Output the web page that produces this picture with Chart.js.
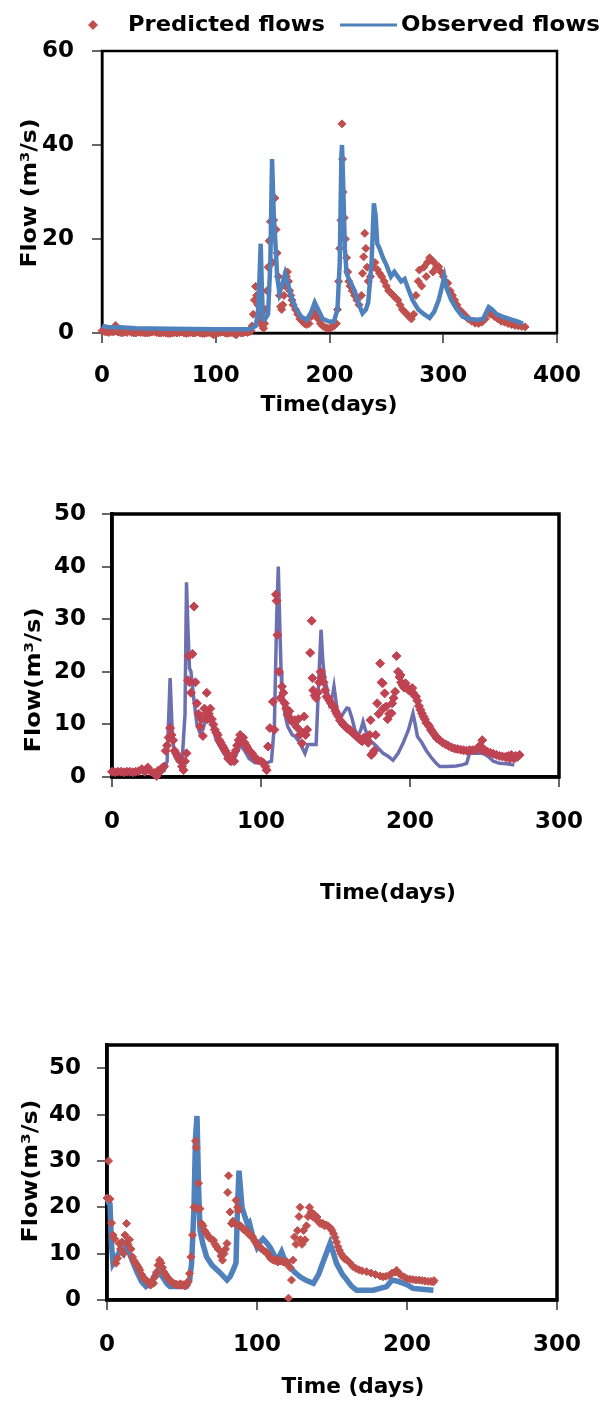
<!DOCTYPE html>
<html>
<head>
<meta charset="utf-8">
<script src="https://cdn.jsdelivr.net/npm/chart.js@4.4.1/dist/chart.umd.min.js"></script>
<style>
  html, body { margin: 0; padding: 0; background: #fff; }
  #page { position: relative; width: 606px; height: 1403px; overflow: hidden; }
  canvas { position: absolute; left: 0; }
</style>
</head>
<body>
<div id="page">
  <canvas id="flowChart1" width="606" height="430" style="top:0px"></canvas>
  <canvas id="flowChart2" width="606" height="440" style="top:470px"></canvas>
  <canvas id="flowChart3" width="606" height="393" style="top:1010px"></canvas>
</div>
<script>
// ---- data: [day, flow m3/s] ----

const seriesNames = ['Predicted flows', 'Observed flows'];

// panel 1
const observed1 = [
  [0,1.5],[5,1.3],[15,1.2],[30,1.0],[60,0.9],[100,0.8],[130,0.8],[135,1.5],[137,4],[138.5,12],[139.5,19],
  [140.5,10],[141.5,3],[143,2.8],[146,4],[148,15],[149.5,37],[151,25],[152.5,19],[154,12],[156,8.5],
  [158,10],[161,12.7],[163,11],[166,8],[170,5.5],[175,3.5],[180,2.8],[184,4.5],[187,6.5],[190,5],
  [194,3],[200,2.4],[204,2.5],[207,5],[209,15],[210.5,38],[211,40],[212,32],[213.5,18],[215,12.7],
  [218,11],[222,9],[226,6],[229,4.2],[232,5],[234,6.5],[237,15],[239,27.6],[240.5,25],[242,19],
  [244,18],[247,16],[250,14.5],[254,12],[257,13],[260,12],[263,11],[266,11.5],[269,9.5],[273,7],
  [278,5],[283,4],[288,3.2],[292,4.5],[296,7],[299,10],[301,12],[303,9.5],[307,7],[312,5],[317,3.5],
  [322,3],[330,2.8],[335,3],[338,4.5],[340,5.5],[343,5],[347,4],[352,3.5],[358,3],[365,2.5],[370,2]
];
const predicted1 = [
  [0,0.5],[2,0.3],[4,0.2],[6,0.1],[8,0.3],[10,0.2],[12,1.6],[14,0.2],[16,0.1],[18,0],[20,0.2],[22,0.1],
  [24,0.4],[26,0.1],[28,0],[30,0],[32,0.2],[34,0.1],[36,0.1],[38,0],[40,0],[42,0.1],[44,0.2],
  [46,0.3],[48,0.1],[50,0],[52,0],[54,0.1],[56,0],[58,-0.1],[60,-0.1],[62,0],[64,0.1],[66,0],
  [68,0.1],[70,0.2],[72,0],[74,-0.1],[76,0],[78,0.1],[80,0],[82,0],[84,0.2],[86,0],[88,-0.1],
  [90,-0.1],[92,0],[94,0.1],[96,0],[98,-0.4],[100,-0.1],[102,0],[104,0.1],[106,0.2],[108,0],
  [110,-0.1],[112,0],[114,0.1],[116,-0.1],[118,-0.4],[120,0.1],[122,0],[124,0],[126,0.2],[128,0.1],
  [130,0.3],[131,0.5],[132,1.5],[133,4],[134,7],[135,9.9],[136,8],[137,6],[138,4],[139,3],[140,2],
  [141,1.5],[142,1],[143,2],[144,5],[145,9],[146,14],[147,19.6],[148,23.7],[149,20],[150,15],[151,24],
  [152,28.7],[153,22],[154,17],[155,12],[156,8],[157,5.6],[158,5],[159,6],[160,8],[161,10],[162,12],
  [163,13],[164,11],[165,9],[166,8],[167,7],[168,6],[170,5],[172,4],[174,3],[176,2.5],[178,2],[180,1.8],
  [182,2],[184,3.5],[186,4.5],[188,4],[190,3],[192,2],[194,1.5],[196,1.2],[198,1],[200,1],[202,1.2],
  [204,1.5],[206,2],[207,5],[208,11],[209,18],[210,24],[211,44.5],[211.5,37],[212,30],[213,24.5],
  [214,20],[215,16],[216,13],[217,11],[218,10],[220,9],[222,8],[224,7],[226,6],[228,8],[229,12.7],
  [230,16.2],[231,21.2],[232,18],[233,14],[234,11],[236,12],[238,14],[240,15],[242,13.5],[244,12.7],
  [246,12],[248,11],[250,10],[252,9],[254,8.5],[256,8],[258,7.5],[260,7],[262,6],[264,5],[266,4.5],
  [268,4],[270,3.5],[272,3],[274,4],[276,8],[278,11],[279,13.4],[281,10],[283,14],[285,12],[286,15],
  [288,16],[290,15.5],[291,13],[292,15],[294,14],[296,14.1],[298,13],[300,12],[302,11],[304,10.6],
  [306,9],[308,8],[310,7],[312,6],[314,5],[316,4.5],[318,4],[320,3.5],[322,3],[325,2.5],[328,2.1],
  [331,2],[334,2.3],[337,3],[340,4.2],[342,4],[345,3.5],[348,3],[351,2.5],[354,2.3],[357,2],[360,1.8],
  [363,1.6],[366,1.5],[369,1.4],[372,1.3]
];
const xTicks1 = [0, 400, 100];   // min, max, step
const yTicks1 = [0, 60, 20];

// panel 2
const observed2 = [
  [0,1],[10,1],[20,1],[30,1],[35,1.2],[37,3],[39,18.8],[40.5,8],[42,4],[44,3],[47,2.8],[49,12],[50,37],
  [51,28],[52,20.7],[53,20],[55,14.6],[57,10],[59,8.4],[61,9],[64,12.1],[67,10],[70,7],[74,5],[79,2.7],
  [83,4],[86,6.1],[89,5],[92,3.5],[96,2.7],[100,2.7],[104,2.7],[107,3],[109,10],[110.5,30],[111.6,40],
  [112.5,30],[113.5,20],[114,16.5],[116,12],[118,9.6],[121,8],[123,7.7],[126,6.5],[129.5,4.5],[131.5,6.2],
  [134,6.2],[137,6.2],[139,20],[140.3,28],[141.5,22],[143,18],[144,17.2],[146,14],[148,15.5],[149,17.2],
  [151,13],[153,11.2],[155,12],[157.6,13.1],[159,13],[161,11.2],[163,9],[165,7.7],[167,9],[168.5,10.5],
  [170,9],[173,7],[177,6],[182,4.5],[185,4],[188.6,3.2],[192,4.5],[195.3,6.4],[199,9],[202,12.1],
  [203.5,10],[205,7.7],[208,6.5],[211,5],[214,3.8],[217.6,2.6],[220,2],[225,2],[231,2.1],[235,2.3],
  [238,2.6],[240,4.5],[245,4.5],[249,4.5],[252,4],[256,3],[260,2.6],[265,2.5],[270,2.3]
];
const predicted2 = [
  [0,1],[2,0.9],[4,1],[6,1],[8,0.9],[10,1],[12,1],[14,0.9],[16,1],[18,1.1],[20,1.5],[22,1],[24,1.8],
  [26,1],[28,0.8],[30,0.2],[31,1.2],[32,1],[33,1.5],[34,1.8],[35,2],[36,5],[37,6],[38,7.5],[39,9.3],
  [40,8],[41,7],[42,5],[43,4.5],[44,4],[45,3.5],[46,3],[47,2],[48,1.3],[49,3],[50,4.5],[51,18.4],
  [51.5,23],[52,18],[53,16],[54,23.4],[55,32.4],[56,18],[57,14],[58,12],[59,9.6],[60,11],[61,7.8],
  [62,13],[63,12],[63.6,16],[64,11],[65,12],[66,13],[67,11],[68,10],[69,9],[70,8.4],[71,8],[72,7],
  [73,6.5],[74,6],[75,5.5],[76,5],[77,4.5],[78,3.5],[79,3.2],[80,3],[81,4],[82,3],[83,5],[84,6],[85,7],
  [86,8],[87,7],[88,7.5],[89,6.5],[90,6],[91,5.5],[92,5],[94,4.5],[95,4],[96,3.5],[98,3.2],[100,3],
  [101.6,2.7],[103,2],[103.8,1.3],[104.7,5.8],[106,9.3],[108,14.3],[109,9],[110,34.7],[110.5,33.5],
  [111,27],[112,20],[113,15],[114,17.2],[115,16],[116,14],[117,13],[118,11.8],[119,12.5],[120,11],
  [121,10.5],[122.6,10.8],[124,9.5],[125,11],[126,8],[127,8.6],[127.5,6.4],[129,11.5],[130,8],[131,9],
  [133,23.6],[134,29.7],[134.5,18.8],[135,16.5],[136,15.5],[137,15],[138,16],[139,18],[140,20],[141,19],
  [142,18],[143,16.5],[144,15.3],[145,15],[146,14.5],[147,14],[148,13.5],[149,13.4],[150,12.5],[151,12],
  [152,11.5],[153,10.8],[154,10.5],[155,10],[156,9.8],[157,9.5],[158,9.2],[159,9],[160,8.9],[161,8.5],
  [162,8.3],[163,8],[164,7.8],[165,7.5],[166,7.2],[167,7],[168,6.8],[169,7.5],[170,7.2],[171,7],
  [172,6.5],[173,8],[173.5,10.8],[174,4.2],[175,4.5],[176,5],[177,8],[178,14],[179,12],[180,21.6],
  [181,18],[181.6,17.8],[182,13],[183,15.9],[184,13.4],[185,11],[186,12],[187.6,12.1],[188,14],[189,15],
  [190,16.2],[191,23],[192,20],[193,19],[193.6,19.4],[194,18],[195,17.5],[196,17],[197,17.8],[198,17],
  [199,16.5],[200,16.5],[201.5,16.9],[202,16],[203,15.5],[204,15.3],[205,14.5],[206,13.5],[207,12.8],
  [208,12.1],[209,11.5],[210,11],[211,10.3],[212,10],[213,9.6],[214,9],[215,8.6],[216,8.2],[217,7.8],
  [218,7.4],[219,7.2],[220,7],[222,6.5],[224,6.2],[226,5.9],[228,5.6],[230,5.4],[232,5.3],[234,5.2],
  [236,5.1],[238,5],[240,5.1],[242,5.1],[244,5.2],[246,5.5],[247,6],[248.5,7],[249,5],[250,5.2],
  [252,4.8],[254,4.6],[256,4.4],[258,4.2],[260,4],[262,3.9],[264,3.8],[265,3.8],[266,4],[267,3.5],
  [268,4.2],[269,3.7],[270,3.5],[271,4],[272,3.8],[273.6,4.2]
];
const xTicks2 = [0, 300, 100];
const yTicks2 = [0, 50, 10];

// panel 3
const observed3 = [
  [0,22],[1,21],[2,20.7],[3,12],[4,7.9],[6,9],[8.7,10.7],[11,10],[13,12.2],[15,10],[17.6,7.9],[20,6],
  [23,4],[26,2.9],[29,3.5],[32,5.5],[34,6.4],[37,5],[40,3.5],[42,2.9],[47,2.9],[53,2.9],[55,4],[56.4,7.9],
  [58,20],[59,35],[60,39.7],[61,25],[62,15],[64,12],[66.4,9.3],[70,7.5],[75,6],[80,4.3],[82,5],[84,6.4],
  [86,8],[87,20],[88,27.9],[89,24],[90,20],[92,17.9],[94,16],[95,16.5],[97,14],[100,11.4],[102,12.5],
  [104,13.2],[106,12.5],[108.7,11.4],[111,10],[113,8.6],[115,9.5],[116.4,10.4],[118,9],[122,7.2],[125,6],
  [128.7,5],[133,4.2],[137.6,3.6],[141,5.5],[145,9],[148.7,12.2],[151,10],[153,7.9],[157,5.5],[160,4.3],
  [163,3],[166.4,2.1],[170,2.1],[177.6,2.1],[182,2.5],[186.4,2.9],[190,4.3],[193,4.1],[195,3.9],[200,3.3],
  [204,2.5],[210,2.3],[217.6,2.1]
];
const predicted3 = [
  [0,22],[1,30],[2,21.8],[3,16.6],[4,14],[5,13.2],[6,7.9],[7,9],[8,12.2],[9,11],[10,12.5],[11,10],[12,14],
  [13,16.5],[14,12],[15,13],[16,11],[17,9.3],[18,8.5],[19,8],[20,7.5],[21,7],[22,6.4],[23,5.5],[24,5],
  [25,4.5],[26,4.3],[27,4],[28,3.8],[29,3.2],[30,4],[31,3.6],[32,5],[33,6],[34,7.5],[35,8.6],[36,8],[37,7],
  [38,6],[39,5.5],[40,5],[41,4.5],[42,4.2],[43,4],[44,3.6],[45,3.5],[46,3.4],[47,3.3],[48,3.2],[49,3.5],
  [50,3.2],[51,3.3],[52,3],[53,3.2],[54,4],[55,5.7],[56,9.3],[57,14],[58,20],[59,34.3],[59.5,32.9],
  [60,19.7],[61,25.2],[62,19.7],[63,16.5],[64,16],[65,15],[66,14.5],[67,14],[68,13.5],[69,13.2],[70,13],
  [71,12.9],[72,12],[73,11.5],[74,11],[75,10.7],[76,9.5],[77,8.6],[78,10],[79,11],[80,12.2],[80.5,23.2],
  [81,26.8],[82,19],[83,16.5],[84,17],[85,16.5],[86,21.5],[87,20],[87.6,19.3],[88,16],[89,16],[90,15.5],
  [91,15.2],[92,15],[93,15],[94,14.5],[95,14],[96,14],[97,13.6],[98,13],[99,12.5],[100,12],[101,11.8],
  [102,11.4],[103,11],[104,10.8],[105,10.5],[106,10.4],[107,10],[108,9.5],[109,9],[110,8.8],[111,8.6],
  [112,8.5],[113,8.7],[114,8.2],[115,8.6],[116,8.4],[117,8.3],[118,8.2],[119,8],[120,8.2],[121,0.4],
  [122,7],[123,4.3],[124,8.6],[125,13.6],[126,12],[127,15],[128,18],[128.7,20],[129,13],[130,12],[131,15],
  [132,13],[133,16],[134,18],[135,20],[136,19],[137,18],[138,18.5],[139,17.5],[140,17.9],[141,17],
  [142,16.5],[143,16.5],[144,16.5],[145,16],[146,16.2],[147,16],[148,15.8],[149,15.5],[150,15],[151,14.3],
  [152,13.5],[153,12.5],[154,11.5],[155,10.7],[156,10],[157,9.5],[158,9],[159,8.8],[160,8.6],[162,8],
  [164,7.2],[166,6.8],[168,6.5],[170,6.3],[173,6.1],[176,5.8],[179,5.5],[182,5.2],[184,5],[186,5.1],
  [188,5.3],[190,5.8],[192,6],[193,6.4],[194,6],[196,5.3],[198,5],[200,4.6],[202,4.5],[204,4.4],[206,4.3],
  [208,4.3],[210,4.2],[212,4.1],[214,4],[216,4],[217.6,3.9],[218,4.2]
];
const xTicks3 = [0, 300, 100];
const yTicks3 = [0, 55, 10];

// ---- styling ----
const FONT = '"DejaVu Sans", "Liberation Sans", sans-serif';
const RED = '#C0504D';
const BLUE = '#4F81BD';

const toXY = pairs => pairs.map(([x, y]) => ({ x, y }));

// text squeezed/stretched to a given width (the source font is a wide, heavy one)
function fitText(ctx, text, cx, cy, width, angle) {
    const w = ctx.measureText(text).width;
    ctx.save();
    ctx.translate(cx, cy);
    if (angle) ctx.rotate(angle);
    ctx.scale(width / w, 1);
    ctx.textAlign = 'center';
    ctx.textBaseline = 'middle';
    ctx.fillText(text, 0, 0);
    ctx.restore();
}

// frame round the plot area, free axis titles and the key (panel 1 only)
const panelDecor = {
    id: 'panelDecor',
    beforeDatasetsDraw(chart, args, opts) {
        const { ctx, chartArea: a } = chart;
        ctx.save();
        ctx.strokeStyle = '#000';
        ctx.lineWidth = opts.frameWidth;
        ctx.strokeRect(a.left, a.top, a.right - a.left, a.bottom - a.top);
        ctx.restore();
    },
    afterDraw(chart, args, opts) {
        const ctx = chart.ctx;
        ctx.save();
        ctx.fillStyle = '#000';
        ctx.font = 'bold 22px ' + FONT;
        const [xt, xcx, xcy, xw] = opts.xTitle;
        fitText(ctx, xt, xcx, xcy, xw, 0);
        const [yt, ycx, ycy, yw] = opts.yTitle;
        fitText(ctx, yt, ycx, ycy, yw, -Math.PI / 2);

        const k = opts.key;
        if (k) {
            ctx.fillStyle = RED;
            ctx.beginPath();
            ctx.moveTo(k.diamondX, k.y - 5);
            ctx.lineTo(k.diamondX + 5, k.y);
            ctx.lineTo(k.diamondX, k.y + 5);
            ctx.lineTo(k.diamondX - 5, k.y);
            ctx.closePath();
            ctx.fill();
            ctx.strokeStyle = BLUE;
            ctx.lineWidth = 3;
            ctx.beginPath();
            ctx.moveTo(k.lineX[0], k.y);
            ctx.lineTo(k.lineX[1], k.y);
            ctx.stroke();
            ctx.fillStyle = '#000';
            fitText(ctx, seriesNames[0], (k.text1[0] + k.text1[1]) / 2, k.y, k.text1[1] - k.text1[0], 0);
            fitText(ctx, seriesNames[1], (k.text2[0] + k.text2[1]) / 2, k.y, k.text2[1] - k.text2[0], 0);
        }
        ctx.restore();
    }
};

function buildPanel(canvasId, p) {
    const canvas = document.getElementById(canvasId);
    const H = canvas.height;
    const W = canvas.width;

    const predictedSet = {
        label: seriesNames[0],
        type: 'scatter',
        data: toXY(p.predicted),
        showLine: false,
        pointStyle: 'rectRot',
        pointRadius: p.markerRadius,
        pointBackgroundColor: p.red,
        pointBorderColor: p.red,
        pointBorderWidth: 1,
        clip: false,
        order: p.redOnTop ? 0 : 1
    };
    const observedSet = {
        label: seriesNames[1],
        type: 'line',
        data: toXY(p.observed),
        borderColor: p.blue,
        borderWidth: p.lineWidth,
        pointRadius: 0,
        tension: 0,
        fill: false,
        clip: false,
        order: p.redOnTop ? 1 : 0
    };

    const tickFont = { family: FONT, size: 23, weight: 'bold' };

    return new Chart(canvas.getContext('2d'), {
        data: { datasets: [predictedSet, observedSet] },
        plugins: [panelDecor],
        options: {
            responsive: false,
            animation: false,
            devicePixelRatio: 1,
            layout: { padding: { left: 0, top: p.area.top, right: W - p.area.right, bottom: 0 } },
            plugins: {
                legend: { display: false },
                tooltip: { enabled: false },
                panelDecor: {
                    frameWidth: p.axisWidth,
                    xTitle: p.xTitle,
                    yTitle: p.yTitle,
                    key: p.key || null
                }
            },
            scales: {
                x: {
                    type: 'linear',
                    min: p.xTicks[0],
                    max: p.xTicks[1],
                    afterFit: s => { s.height = H - p.area.bottom; },
                    border: { display: true, color: '#000', width: p.axisWidth },
                    grid: { drawOnChartArea: false, drawTicks: true, tickLength: 10, color: '#666', lineWidth: 2 },
                    ticks: {
                        stepSize: p.xTicks[2],
                        color: '#000',
                        padding: p.xPad,
                        maxRotation: 0,
                        font: tickFont
                    }
                },
                y: {
                    type: 'linear',
                    min: p.yTicks[0],
                    max: p.yTicks[1],
                    afterFit: s => { s.width = p.area.left; },
                    border: { display: true, color: '#000', width: p.axisWidth },
                    grid: { drawOnChartArea: false, drawTicks: true, tickLength: 10, color: '#666', lineWidth: 2 },
                    ticks: {
                        stepSize: p.yTicks[2],
                        includeBounds: false,
                        color: '#000',
                        padding: p.yPad,
                        font: tickFont
                    }
                }
            }
        }
    });
}

// titles: [text, centreX, centreY, width]
buildPanel('flowChart1', {
    observed: observed1, predicted: predicted1, xTicks: xTicks1, yTicks: yTicks1,
    area: { left: 102, top: 51, right: 557, bottom: 333 },
    red: RED, blue: BLUE, lineWidth: 4.5, markerRadius: 4, axisWidth: 2.5, redOnTop: false,
    xPad: 19, yPad: 18,
    xTitle: ['Time(days)', 329, 405, 137],
    yTitle: ['Flow (m³/s)', 30, 193, 149],
    key: { y: 25, diamondX: 93, text1: [128, 325], lineX: [340, 397], text2: [401, 600] }
});

buildPanel('flowChart2', {
    observed: observed2, predicted: predicted2, xTicks: xTicks2, yTicks: yTicks2,
    area: { left: 112, top: 44, right: 559, bottom: 307 },
    red: '#BF4352', blue: '#6D70B0', lineWidth: 3.5, markerRadius: 4.5, axisWidth: 3.5, redOnTop: true,
    xPad: 21, yPad: 16,
    xTitle: ['Time(days)', 388, 423, 136],
    yTitle: ['Flow(m³/s)', 34, 210, 145]
});

buildPanel('flowChart3', {
    observed: observed3, predicted: predicted3, xTicks: xTicks3, yTicks: yTicks3,
    area: { left: 107, top: 35, right: 557, bottom: 290 },
    red: RED, blue: BLUE, lineWidth: 5.5, markerRadius: 4, axisWidth: 3.5, redOnTop: true,
    xPad: 21, yPad: 16,
    xTitle: ['Time (days)', 353, 377, 143],
    yTitle: ['Flow(m³/s)', 31, 161, 143]
});
</script>
</body>
</html>
